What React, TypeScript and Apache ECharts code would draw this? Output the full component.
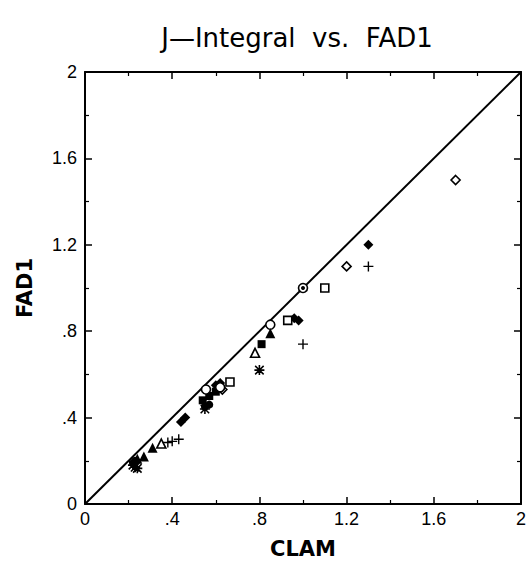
import React, { useEffect, useRef } from "react";
import * as echarts from "echarts";

const titleText = "J\u2014Integral  vs.  FAD1";
const xName = "CLAM";
const yName = "FAD1";
const axisMin = 0;
const axisMax = 2;
const axisStep = 0.4;

const diagonal = [[0, 0], [2, 2]];
const filledDiamond = [[1.3, 1.2], [0.96, 0.86], [0.98, 0.85], [0.44, 0.38], [0.46, 0.4], [0.6, 0.55], [0.62, 0.56]];
const openDiamond = [[1.7, 1.5], [1.2, 1.1], [0.63, 0.53]];
const openSquare = [[1.1, 1.0], [0.93, 0.85], [0.665, 0.565]];
const filledSquare = [[0.81, 0.74], [0.54, 0.48], [0.57, 0.5], [0.6, 0.52]];
const openCircle = [[1.0, 1.0], [0.85, 0.83], [0.555, 0.53], [0.62, 0.54]];
const filledCircle = [[1.0, 1.0], [0.55, 0.45], [0.57, 0.46], [0.23, 0.2], [0.22, 0.19]];
const openTriangle = [[0.78, 0.7], [0.35, 0.28]];
const filledTriangle = [[0.85, 0.79], [0.31, 0.26], [0.27, 0.22], [0.24, 0.21]];
const plusPts = [[1.3, 1.1], [1.0, 0.74], [0.38, 0.285], [0.4, 0.29], [0.43, 0.3]];
const asteriskPts = [[0.8, 0.62], [0.55, 0.44], [0.24, 0.165], [0.22, 0.18], [0.23, 0.17]];

const PLUS = "path://M4.3,0H5.7V4.3H10V5.7H5.7V10H4.3V5.7H0V4.3H4.3Z";
const ASTER =
  "path://M4.2,0H5.8V4.2H10V5.8H5.8V10H4.2V5.8H0V4.2H4.2Z M1.3,0.2L5,3.9L8.7,0.2L9.8,1.3L6.1,5L9.8,8.7L8.7,9.8L5,6.1L1.3,9.8L0.2,8.7L3.9,5L0.2,1.3Z";

const fmt = (v: number) => {
  const r = Number(v.toFixed(1));
  if (r === 0) return "0";
  if (r < 1) return String(r).replace(/^0/, "");
  return String(r);
};

export default function App() {
  const ref = useRef<HTMLDivElement>(null);
  useEffect(() => {
    document.body.style.margin = "0";
    const chart = echarts.init(ref.current!, null, { renderer: "svg" });
    const lineStyle = { color: "#000", width: 2 };
    const baseAxis = {
      type: "value",
      min: axisMin,
      max: axisMax,
      interval: axisStep,
      axisLine: { show: true, onZero: false, lineStyle },
      axisTick: { show: true, inside: true, length: 7, lineStyle: { color: "#000", width: 1.5 } },
      minorTick: { show: true, splitNumber: 2, length: 4, lineStyle: { color: "#000", width: 1.2 } },
      splitLine: { show: false },
    };
    const labelStyle = {
      formatter: fmt,
      color: "#000",
      fontSize: 18,
      fontFamily: "Liberation Sans, Arial, sans-serif",
    };
    const sc = (data: any[], symbol: string, filled: boolean, size = 8) => ({
      type: "scatter",
      data,
      symbol,
      symbolSize: size,
      z: 3,
      itemStyle: filled
        ? { color: "#000", borderColor: "#000", borderWidth: 0, opacity: 1 }
        : { color: "#fff", borderColor: "#000", borderWidth: 1.6, opacity: 1 },
    });
    chart.setOption({
      animation: false,
      backgroundColor: "#fff",
      grid: { left: 85, right: 7, top: 72, bottom: 56 },
      graphic: [
        {
          type: "text",
          x: 297,
          y: 38,
          style: {
            text: titleText,
            fill: "#000",
            fontSize: 26,
            fontWeight: 500,
            fontFamily: "DejaVu Sans, sans-serif",
            align: "center",
            verticalAlign: "middle",
          },
        },
      ],
      xAxis: [
        {
          ...baseAxis,
          position: "bottom",
          name: xName,
          nameLocation: "middle",
          nameGap: 34,
          nameTextStyle: { color: "#000", fontSize: 21, fontWeight: "bold", fontFamily: "DejaVu Sans, sans-serif" },
          axisLabel: { ...labelStyle, margin: 6 },
        },
        { ...baseAxis, position: "top", axisLabel: { show: false } },
      ],
      yAxis: [
        {
          ...baseAxis,
          position: "left",
          name: yName,
          nameLocation: "middle",
          nameRotate: 90,
          nameGap: 50,
          nameTextStyle: { color: "#000", fontSize: 21, fontWeight: "bold", fontFamily: "DejaVu Sans, sans-serif" },
          axisLabel: { ...labelStyle, margin: 8 },
        },
        { ...baseAxis, position: "right", axisLabel: { show: false } },
      ],
      series: [
        {
          type: "line",
          data: diagonal,
          showSymbol: false,
          symbol: "none",
          z: 1,
          lineStyle: { color: "#000", width: 2 },
        },
        sc(filledDiamond, "diamond", true, 10),
        sc(openDiamond, "diamond", false, 9),
        sc(openSquare, "rect", false, 8),
        sc(filledSquare, "rect", true, 8),
        sc(openCircle, "circle", false, 9),
        sc(filledCircle.map((p, i) => (i === 0 ? { value: p, symbolSize: 4 } : p)), "circle", true, 8),
        sc(openTriangle, "triangle", false, 9),
        sc(filledTriangle, "triangle", true, 10),
        sc(plusPts, PLUS, true, 10),
        sc(asteriskPts, ASTER, true, 10),
      ],
    });
    return () => chart.dispose();
  }, []);
  return <div ref={ref} style={{ width: 529, height: 564 }} />;
}
